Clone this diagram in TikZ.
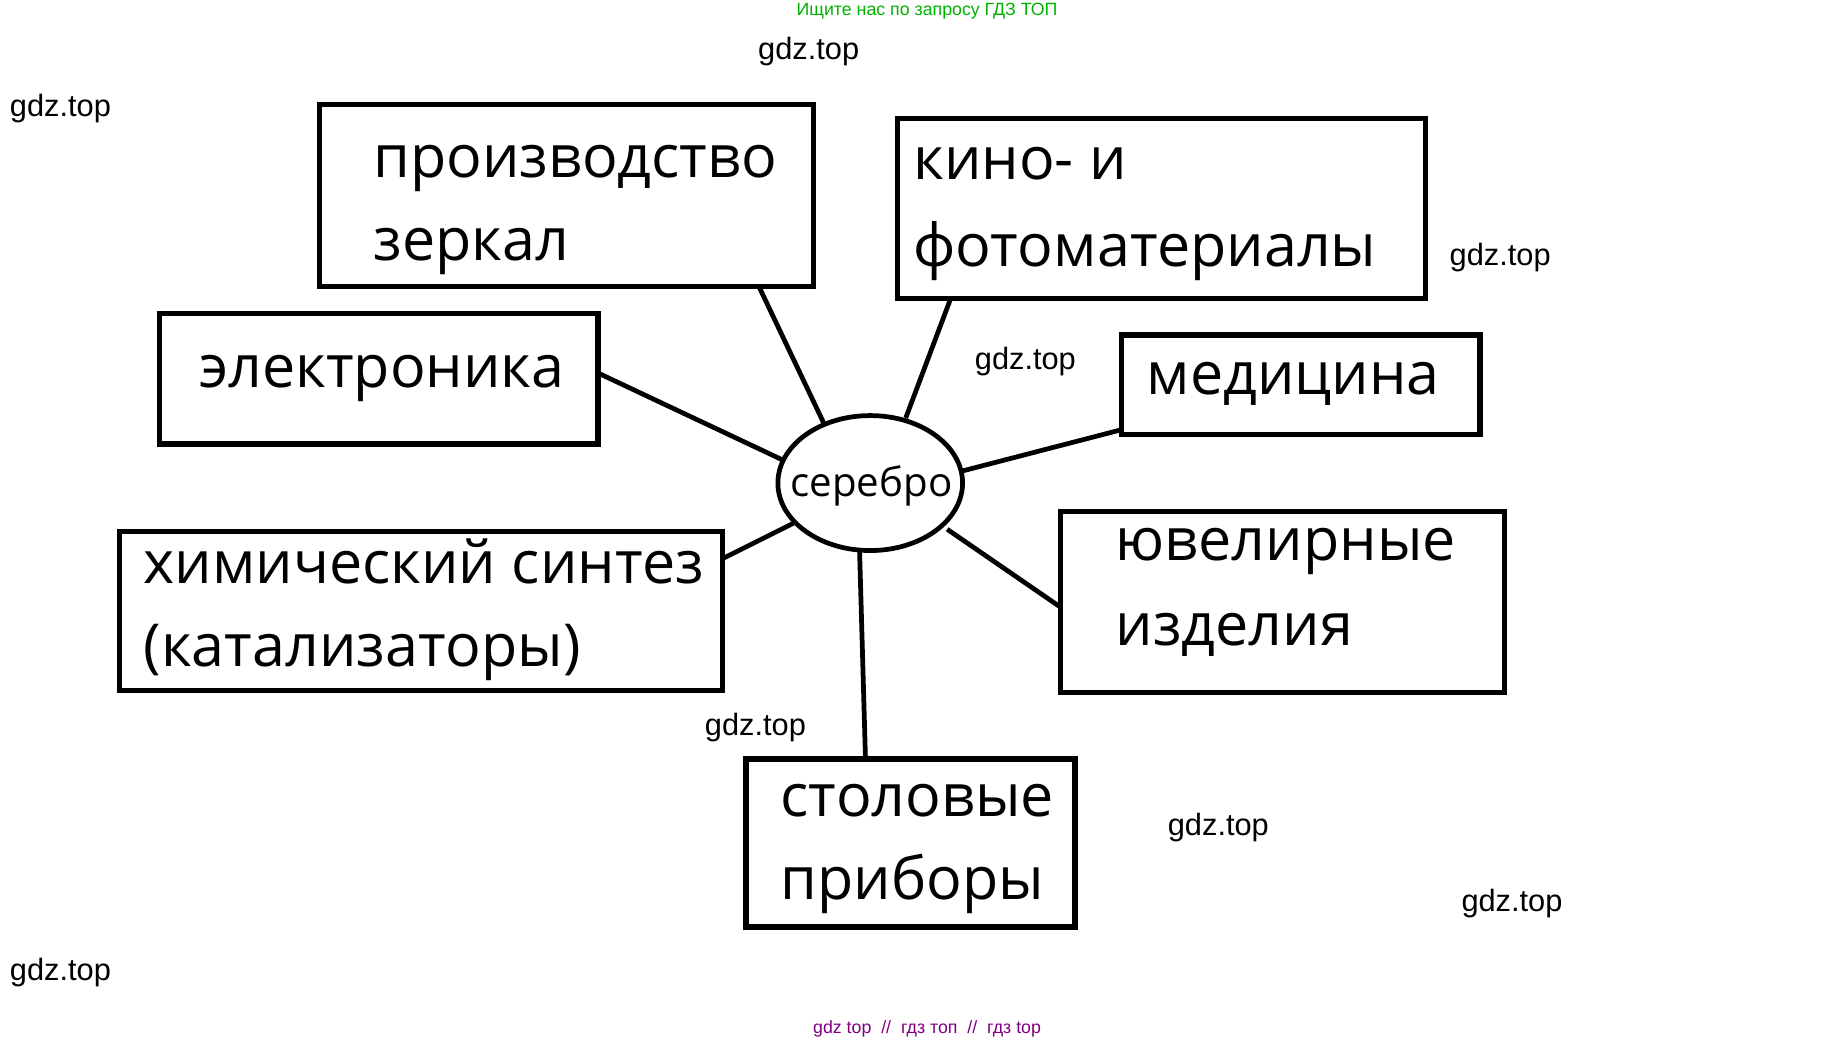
\documentclass[tikz,border=0pt]{standalone}
\usepackage{fontspec}
\usetikzlibrary{shapes.geometric}
\setmainfont{Open Sans}
\newfontfamily\wm{Liberation Sans}
\begin{document}
\begin{tikzpicture}[x=0.5pt,y=-0.5pt,
  box/.style={draw,line width=2.2pt},
  lab/.style={anchor=base west,inner sep=0pt,font=\fontsize{25}{25}\selectfont},
  link/.style={line width=2pt},
  wmark/.style={anchor=base west,inner sep=0pt,font=\wm\fontsize{13}{13}\selectfont}]
\useasboundingbox (0,0) rectangle (1560,878);
\draw[box] (270,88) rectangle (687,242);
\draw[box] (758,100) rectangle (1204,252);
\draw[box] (135,265) rectangle (505,375);
\draw[box] (947,283) rectangle (1250,367);
\draw[box] (101,449) rectangle (610,583);
\draw[box] (896,432) rectangle (1271,585);
\draw[box] (630,641) rectangle (908,783);
\node[draw,line width=2pt,ellipse,minimum width=78pt,minimum height=57pt,inner sep=0pt] (ag) at (735,408) {};
\node[font=\fontsize{17}{17}\selectfont,inner sep=0pt] at (736,410) {серебро};
\node[lab] (t1) at (315,150) {производство};
\node[lab] at (315,220) {зеркал};
\node[lab] (t2) at (771,152) {кино- и};
\node[lab] at (771,225) {фотоматериалы};
\node[lab] (t3) at (168,327) {электроника};
\node[lab] (t4) at (968,333) {медицина};
\node[lab] (t5) at (121,493) {химический синтез};
\node[lab] at (121,563) {(катализаторы)};
\node[lab] (t6) at (942,473) {ювелирные};
\node[lab] at (942,545) {изделия};
\node[lab] (t7) at (659,690) {столовые};
\node[lab] at (659,760) {приборы};
\coordinate (a1) at (641,242); \coordinate (b1) at (697,360);
\coordinate (a2) at (803,252); \coordinate (b2) at (765,353);
\coordinate (a3) at (505,315); \coordinate (b3) at (660,388);
\coordinate (a4) at (947,363); \coordinate (b4) at (812,398);
\coordinate (a5) at (610,472); \coordinate (b5) at (670,442);
\coordinate (a6) at (896,513); \coordinate (b6) at (800,447);
\coordinate (a7) at (731,641); \coordinate (b7) at (726,465);
\foreach \i in {1,...,7} \draw[link] (a\i) -- (b\i);
\node[wmark] at (640,50) {gdz.top};
\node[wmark] at (8,98) {gdz.top};
\node[wmark] at (1224,224) {gdz.top};
\node[wmark] at (823,312) {gdz.top};
\node[wmark] at (595,621) {gdz.top};
\node[wmark] at (986,706) {gdz.top};
\node[wmark] at (1234,770) {gdz.top};
\node[wmark] at (8,828) {gdz.top};
\node[font=\wm\fontsize{7.5}{8}\selectfont,text=green!70!black,inner sep=0pt] at (783,9) {Ищите нас по запросу ГДЗ ТОП};
\node[font=\wm\fontsize{7.5}{8}\selectfont,text=violet,inner sep=0pt] at (783,869) {gdz top \ // \ гдз топ \ // \ гдз top};
\end{tikzpicture}
\end{document}
